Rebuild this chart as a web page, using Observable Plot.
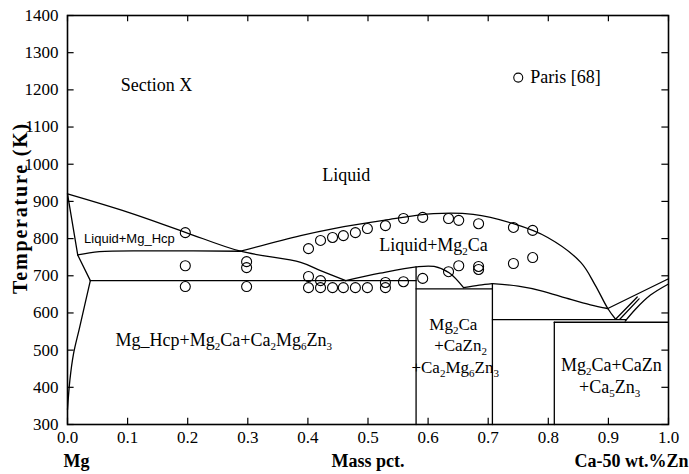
<!DOCTYPE html>
<html>
<head>
<meta charset="utf-8">
<script src="https://cdn.jsdelivr.net/npm/d3@7"></script>
<script src="https://cdn.jsdelivr.net/npm/@observablehq/plot@0.6"></script>
<style>
  html, body { margin: 0; padding: 0; background: #fff; }
  #chart svg { display: block; }
</style>
</head>
<body>
<div id="chart"></div>
<script>
// ---------- axis ticks ----------
const xTicks = [0, 0.1, 0.2, 0.3, 0.4, 0.5, 0.6, 0.7, 0.8, 0.9, 1.0];
const yTicks = [300, 400, 500, 600, 700, 800, 900, 1000, 1100, 1200, 1300, 1400];

// ---------- phase boundaries (x = mass fraction, T in K) ----------
const liqHcpX = [0, 0.10, 0.196, 0.288, 0.388, 0.421, 0.463];
const liqHcpT = [920, 871, 817, 766, 736, 714, 687];

const liqMg2CaX = [0.288, 0.388, 0.443, 0.526, 0.609, 0.675, 0.742, 0.799, 0.854, 0.878, 0.899, 0.912];
const liqMg2CaT = [766, 808, 827, 849, 867, 865, 840, 803, 736, 675, 612, 583];

const threePhaseX = [0.017, 0.053, 0.15, 0.288];
const threePhaseT = [756, 765, 767, 766];

const eutecticX = [0.038, 0.58];
const eutecticT = [687, 687];

const humpX = [0.463, 0.52, 0.58, 0.61, 0.635, 0.659];
const humpT = [687, 707, 724, 725, 708, 668];

const smallX = [0.659, 0.685, 0.707];
const smallT = [668, 675, 679];

const lowerX = [0.707, 0.75, 0.79, 0.83, 0.87, 0.899];
const lowerT = [679, 672, 659, 640, 622, 612];

const rightMainX = [0.899, 1.0];
const rightMainT = [612, 692];
const wedgeAX = [0.912, 0.948];
const wedgeAT = [583, 643];
const wedgeBX = [0.919, 0.951];
const wedgeBT = [583, 638];
const rightCurveX = [0.928, 0.945, 0.97, 1.0];
const rightCurveT = [578, 610, 648, 678];

const box1TopX = [0.58, 0.707];
const box1TopT = [665, 665];
const box2TopX = [0.707, 0.93];
const box2TopT = [582, 582];
const box3TopX = [0.81, 1.0];
const box3TopT = [575, 575];

const vert1X = [0.58, 0.58];
const vert1T = [724, 300];
const vert2X = [0.707, 0.707];
const vert2T = [679, 300];
const vert3X = [0.81, 0.81];
const vert3T = [575, 300];

const solidusX = [0, 0.017];
const solidusT = [920, 756];
const hcpEdgeX = [0.017, 0.038];
const hcpEdgeT = [756, 687];
const solvusX = [0.038, 0.02, 0.01, 0.004, 0];
const solvusT = [687, 560, 490, 420, 340];

// ---------- experimental points: Paris [68] ----------
const parisX = [0.196, 0.196, 0.196, 0.298, 0.298, 0.298,
  0.401, 0.421, 0.441, 0.459, 0.479, 0.499, 0.529, 0.559, 0.591, 0.634, 0.651, 0.684, 0.742, 0.774,
  0.401, 0.421, 0.529, 0.559, 0.591, 0.634, 0.651, 0.684, 0.684, 0.742, 0.774,
  0.401, 0.421, 0.441, 0.459, 0.479, 0.499, 0.529];
const parisT = [816, 727, 671, 738, 722, 671,
  773, 795, 803, 808, 816, 827, 835, 854, 857, 854, 849, 840, 830, 822,
  698, 687, 682, 684, 693, 711, 727, 725, 717, 733, 749,
  668, 668, 668, 668, 668, 668, 668];

// ---------- labels ----------
const labelText = ["Section X", "Liquid", "Liquid+Mg₂Ca", "Mg_Hcp+Mg₂Ca+Ca₂Mg₆Zn₃", "Mg₂Ca+CaZn", "+Ca₅Zn₃"];
const labelX = [0.148, 0.464, 0.609, 0.26, 0.905, 0.902];
const labelT = [1212, 970, 781, 526, 459, 399];

const boxLabelText = ["Mg₂Ca", "+CaZn₂", "+Ca₂Mg₆Zn₃"];
const boxLabelX = [0.642, 0.654, 0.645];
const boxLabelT = [569, 512, 453];

const sansLabelText = ["Liquid+Mg_Hcp"];
const sansLabelX = [0.103];
const sansLabelT = [800];

const legendText = ["Paris [68]"];
const legendX = [0.75];
const legendT = [1233];

const xAxisNames = ["Mg", "Mass pct.", "Ca-50 wt.%Zn"];
const yAxisName = "Temperature (K)";

// ---------- build tables ----------
const curveList = [
  [liqHcpX, liqHcpT], [liqMg2CaX, liqMg2CaT], [threePhaseX, threePhaseT], [eutecticX, eutecticT],
  [humpX, humpT], [smallX, smallT], [lowerX, lowerT], [rightMainX, rightMainT],
  [wedgeAX, wedgeAT], [wedgeBX, wedgeBT], [rightCurveX, rightCurveT],
  [box1TopX, box1TopT], [box2TopX, box2TopT], [box3TopX, box3TopT],
  [vert1X, vert1T], [vert2X, vert2T], [vert3X, vert3T],
  [solidusX, solidusT], [hcpEdgeX, hcpEdgeT], [solvusX, solvusT]
];
const curveRows = curveList.flatMap(([xs, ts], id) => xs.map((x, i) => ({id, x, t: ts[i]})));
const parisRows = parisX.map((x, i) => ({x, t: parisT[i]}));
const labelRows = labelText.map((text, i) => ({text, x: labelX[i], t: labelT[i]}));
const boxRows = boxLabelText.map((text, i) => ({text, x: boxLabelX[i], t: boxLabelT[i]}));
const sansRows = sansLabelText.map((text, i) => ({text, x: sansLabelX[i], t: sansLabelT[i]}));
const legendRows = legendText.map((text, i) => ({text, x: legendX[i], t: legendT[i]}));

const serif = "'Liberation Serif', 'Times New Roman', serif";

const chart = Plot.plot({
  width: 689,
  height: 474,
  marginLeft: 67,
  marginRight: 21,
  marginTop: 15,
  marginBottom: 50,
  x: {domain: [0, 1]},
  y: {domain: [300, 1400]},
  style: {fontFamily: serif, fontSize: "17px", color: "#000", background: "#fff"},
  marks: [
    Plot.axisX(xTicks, {anchor: "bottom", tickSize: 0, tickPadding: 6, fontSize: 17, tickFormat: d => d.toFixed(1), label: null}),
    Plot.axisY(yTicks, {anchor: "left", tickSize: 0, tickPadding: 9, fontSize: 17, tickFormat: d => String(d), label: null}),
    // inward ticks on all four sides
    Plot.ruleY(yTicks, {y: d => d, x1: 0, x2: 0.011, stroke: "#000", strokeWidth: 1.2}),
    Plot.ruleY(yTicks, {y: d => d, x1: 0.989, x2: 1, stroke: "#000", strokeWidth: 1.2}),
    Plot.ruleX(xTicks, {x: d => d, y1: 300, y2: 317, stroke: "#000", strokeWidth: 1.2}),
    Plot.ruleX(xTicks, {x: d => d, y1: 1400, y2: 1383, stroke: "#000", strokeWidth: 1.2}),
    Plot.frame({stroke: "#000", strokeWidth: 1.6}),
    Plot.line(curveRows, {x: "x", y: "t", z: "id", stroke: "#000", strokeWidth: 1.3, curve: "catmull-rom"}),
    Plot.dot(parisRows, {x: "x", y: "t", r: 5, stroke: "#000", fill: "none", strokeWidth: 1.1}),
    Plot.dot(legendRows, {x: "x", y: "t", r: 4.5, stroke: "#000", fill: "none", strokeWidth: 1.1}),
    Plot.text(legendRows, {x: "x", y: "t", text: "text", dx: 12, textAnchor: "start", fontSize: 18, fill: "#000"}),
    Plot.text(labelRows, {x: "x", y: "t", text: "text", fontSize: 18, fill: "#000"}),
    Plot.text(boxRows, {x: "x", y: "t", text: "text", fontSize: 17, fill: "#000"}),
    Plot.text(sansRows, {x: "x", y: "t", text: "text", fontSize: 13, fontFamily: "'Liberation Sans', Arial, sans-serif", fill: "#000"}),
    // axis names
    Plot.text([xAxisNames[0]], {x: 0, y: 300, text: d => d, dx: 9, dy: 37, fontSize: 18, fontWeight: "bold", fill: "#000"}),
    Plot.text([xAxisNames[1]], {x: 0.5, y: 300, text: d => d, dy: 37, fontSize: 18, fontWeight: "bold", fill: "#000"}),
    Plot.text([xAxisNames[2]], {x: 1, y: 300, text: d => d, dx: 20, dy: 37, textAnchor: "end", fontSize: 18, fontWeight: "bold", fill: "#000"}),
    Plot.text([yAxisName], {frameAnchor: "left", text: d => d, textAnchor: "middle", dx: -47, dy: -12, rotate: -90, fontSize: 20, fontWeight: "bold", fill: "#000"})
  ]
});

document.getElementById("chart").appendChild(chart);

// subscripts: turn unicode subscript digits into shifted tspans
function subscriptify(el) {
  const s = el.textContent;
  if (!/[\u2080-\u2089]/.test(s)) return;
  el.textContent = "";
  for (const part of s.split(/([\u2080-\u2089]+)/)) {
    if (!part) continue;
    const t = document.createElementNS("http://www.w3.org/2000/svg", "tspan");
    if (/[\u2080-\u2089]/.test(part)) {
      t.textContent = part.replace(/[\u2080-\u2089]/g, c => String.fromCharCode(c.charCodeAt(0) - 0x2080 + 48));
      t.setAttribute("baseline-shift", "-3.5");
      t.setAttribute("font-size", "11");
    } else {
      t.textContent = part;
    }
    el.appendChild(t);
  }
}
d3.select(chart).selectAll("text").each(function () {
  const spans = this.querySelectorAll("tspan");
  if (spans.length) spans.forEach(subscriptify); else subscriptify(this);
});
d3.select(chart).selectAll("text").filter(function () { return this.textContent === yAxisName; })
  .attr("letter-spacing", "1.8");
</script>
</body>
</html>
